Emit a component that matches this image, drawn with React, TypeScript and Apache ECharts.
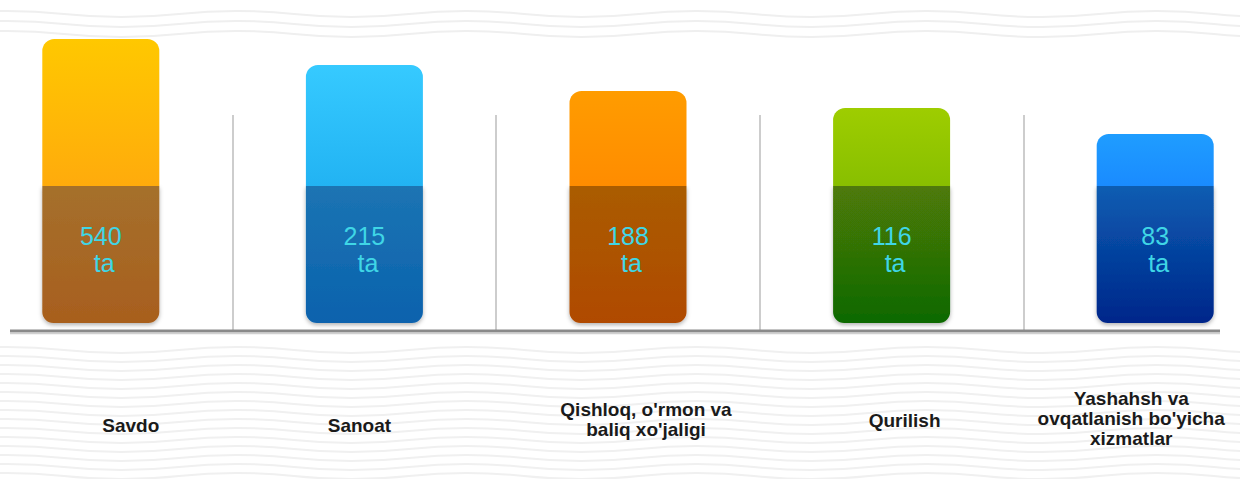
import React, { useEffect, useRef } from "react";
import * as echarts from "echarts";

// ---- data ----
const categories = [
  "Savdo",
  "Sanoat",
  "Qishloq, o'rmon va\nbaliq xo'jaligi",
  "Qurilish",
  "Yashahsh va\novqatlanish bo'yicha\nxizmatlar",
];
const counts = [540, 215, 188, 116, 83];
const unitLabel = "ta";
// visual bar heights as drawn in the infographic (not proportional to counts)
const barHeights = [284, 258, 232, 215, 189];
const darkHeights = [137, 137, 137, 137, 137];

// ---- styles / layout ----
const lightColors = [
  ["#ffc800", "#ffab0c"],
  ["#36caff", "#22b3f3"],
  ["#ff9c00", "#ff8c00"],
  ["#9ecd00", "#88bf00"],
  ["#1f9dff", "#1a8bff"],
];
const darkColors = [
  ["#a5702c", "#a85f1e"],
  ["#1c74b3", "#0a62ad"],
  ["#aa5c06", "#b04a00"],
  ["#4f7a07", "#0d6905"],
  ["#0b5db2", "#00268a"],
];
const labelShiftX = [30, -5, 18, 13, -24];
const labelPadTop = [27, 27, 11, 22, 0];

const OFFSET_X = 31; // chart div is shifted left by this much
const CHART_W = 1318;

function wavePath(ys: number[], width: number, wl: number, amp: number) {
  let d = "";
  for (const y of ys) {
    d += `M-20 ${y} `;
    let up = true;
    for (let x = -20; x < width + 20; x += wl / 2) {
      const cy = up ? y - amp * 2 : y + amp * 2;
      d += `Q${x + wl / 4} ${cy} ${x + wl / 2} ${y} `;
      up = !up;
    }
  }
  return d;
}

const topWaves: number[] = [14, 24, 34];
const bottomWaves: number[] = [];
for (let y = 350; y < 485; y += 9) bottomWaves.push(y);

echarts.graphic.registerShape(
  "wavesTop",
  echarts.graphic.extendPath(wavePath(topWaves, CHART_W, 230, 3), {})
);
echarts.graphic.registerShape(
  "wavesBottom",
  echarts.graphic.extendPath(wavePath(bottomWaves, CHART_W, 230, 3), {})
);

const grad = (c: string[]) =>
  new echarts.graphic.LinearGradient(0, 0, 0, 1, [
    { offset: 0, color: c[0] },
    { offset: 1, color: c[1] },
  ]);

export default function App() {
  const ref = useRef<HTMLDivElement>(null);

  useEffect(() => {
    if (!ref.current) return;
    const chart = echarts.init(ref.current, undefined, { renderer: "svg" });

    const topParts = barHeights.map((h, i) => h - darkHeights[i]);
    const font = "'Liberation Sans', Arial, sans-serif";

    const option: any = {
      animation: false,
      backgroundColor: "#ffffff",
      graphic: [
        {
          type: "wavesTop",
          x: 0,
          y: 0,
          z: -10,
          silent: true,
          style: { fill: "none", stroke: "#efefef", lineWidth: 2 },
        },
        {
          type: "wavesBottom",
          x: 0,
          y: 0,
          z: -10,
          silent: true,
          style: { fill: "none", stroke: "#f0f0f0", lineWidth: 2 },
        },
        {
          type: "line",
          z: 5,
          silent: true,
          shape: { x1: 10 + OFFSET_X, y1: 331, x2: 1220 + OFFSET_X, y2: 331 },
          style: { stroke: "#8a8a8a", lineWidth: 3 },
        },
        {
          type: "line",
          z: 5,
          silent: true,
          shape: {
            x1: 10 + OFFSET_X,
            y1: 333.5,
            x2: 1220 + OFFSET_X,
            y2: 333.5,
          },
          style: { stroke: "#d0d0d0", lineWidth: 1.5 },
        },
      ],
      grid: [
        { left: 0, right: 0, top: 23, bottom: 156, containLabel: false },
        { left: 0, right: 0, top: 115, bottom: 149, containLabel: false },
      ],
      xAxis: [
        {
          type: "category",
          gridIndex: 0,
          data: categories.map((c, i) => ({
            value: c,
            textStyle: {
              padding:
                labelShiftX[i] >= 0
                  ? [labelPadTop[i], 0, 0, labelShiftX[i] * 2]
                  : [labelPadTop[i], -labelShiftX[i] * 2, 0, 0],
            },
          })),
          axisLine: { show: false },
          axisTick: { show: false },
          splitLine: { show: false },
          axisLabel: {
            interval: 0,
            margin: 65,
            align: "center",
            color: "#1a1a1a",
            fontFamily: font,
            fontWeight: "bold",
            fontSize: 19,
            lineHeight: 20,
          },
        },
        {
          type: "category",
          gridIndex: 1,
          data: categories,
          axisLine: { show: false },
          axisTick: { show: false },
          axisLabel: { show: false },
          splitLine: {
            show: true,
            interval: 0,
            lineStyle: { color: "#cdcdcd", width: 2 },
          },
        },
      ],
      yAxis: [
        { type: "value", gridIndex: 0, min: 0, max: 300, show: false },
        { type: "value", gridIndex: 1, min: 0, max: 1, show: false },
      ],
      series: [
        {
          type: "bar",
          name: "dark",
          stack: "s",
          xAxisIndex: 0,
          yAxisIndex: 0,
          barWidth: 117,
          data: darkHeights.map((v, i) => ({
            value: v,
            itemStyle: {
              color: grad(darkColors[i]),
              borderRadius: [0, 0, 11, 11],
              shadowColor: "rgba(0,0,0,0.3)",
              shadowBlur: 4,
              shadowOffsetY: 2,
            },
          })),
          label: {
            show: true,
            position: "inside",
            offset: [0, -5],
            formatter: (p: any) => `${counts[p.dataIndex]}\n ${unitLabel}`,
            color: "#3fd6e6",
            fontFamily: font,
            fontSize: 25,
            lineHeight: 27,
            align: "center",
          },
        },
        {
          type: "bar",
          name: "light",
          stack: "s",
          xAxisIndex: 0,
          yAxisIndex: 0,
          barWidth: 117,
          data: topParts.map((v, i) => ({
            value: v,
            itemStyle: {
              color: grad(lightColors[i]),
              borderRadius: [12, 12, 0, 0],
            },
          })),
        },
      ],
    };

    chart.setOption(option);
    return () => chart.dispose();
  }, []);

  return (
    <div
      style={{
        position: "fixed",
        left: 0,
        top: 0,
        width: 1240,
        height: 479,
        overflow: "hidden",
        background: "#ffffff",
      }}
    >
      <div
        ref={ref}
        style={{
          position: "absolute",
          left: -OFFSET_X,
          top: 0,
          width: CHART_W,
          height: 479,
        }}
      />
    </div>
  );
}
